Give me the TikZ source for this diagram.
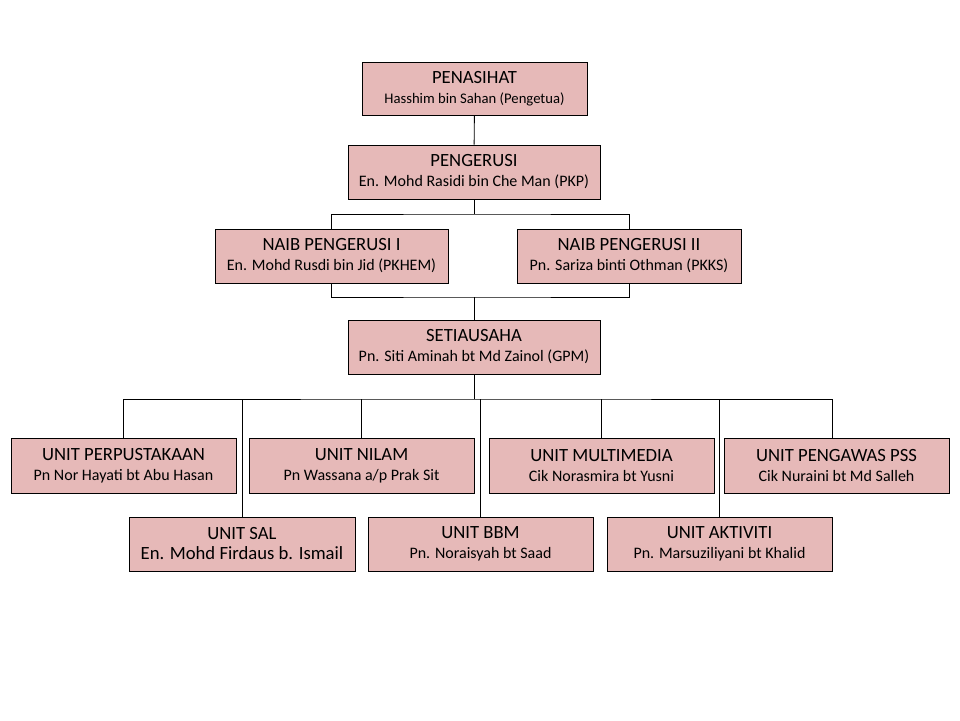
\documentclass[tikz,border=0pt]{standalone}
\usepackage{fontspec}
\setmainfont{Carlito}
\definecolor{boxpink}{HTML}{E6B9B8}
\newcommand{\post}[1]{{\fontsize{18.67}{20}\selectfont #1}}
\tikzset{
  orgbox/.style={draw=black, fill=boxpink, line width=0.9pt, align=center, inner sep=0pt,
    minimum width=225pt, minimum height=54pt, font=\fontsize{16}{20}\selectfont},
  orgline/.style={draw=black, line width=0.9pt}
}

\begin{document}
\begin{tikzpicture}[x=1pt,y=-1pt]
\useasboundingbox (0,0) rectangle (960,720);
\node[orgbox, minimum height=53pt] (penasihat) at (474.5,88.5) {\post{PENASIHAT}\\{\fontsize{14.67}{20}\selectfont Hasshim bin Sahan (Pengetua)}};
\node[orgbox, minimum width=252pt] (pengerusi) at (474,172) {\post{PENGERUSI}\\En. Mohd Rasidi bin Che Man (PKP)};
\node[orgbox, minimum width=233pt] (naibi) at (331.5,256) {\post{NAIB PENGERUSI I}\\En. Mohd Rusdi bin Jid (PKHEM)};
\node[orgbox, minimum width=224pt] (naibii) at (629,256) {\post{NAIB PENGERUSI II}\\Pn. Sariza binti Othman (PKKS)};
\node[orgbox, minimum width=252pt] (setiausaha) at (474,347) {\post{SETIAUSAHA}\\Pn. Siti Aminah bt Md Zainol (GPM)};
% unit row 1
\node[orgbox, minimum height=55pt] (perpustakaan) at (123.5,465.5) {\post{UNIT PERPUSTAKAAN}\\Pn Nor Hayati bt Abu Hasan};
\node[orgbox, minimum height=55pt] (nilam) at (361.5,465.5) {\post{UNIT NILAM}\\Pn Wassana a/p Prak Sit};
\node[orgbox, minimum height=55pt] (multimedia) at (601.5,465.5) {\post{UNIT MULTIMEDIA}\\Cik Norasmira bt Yusni};
\node[orgbox, minimum height=55pt] (pengawas) at (836.5,465.5) {\post{UNIT PENGAWAS PSS}\\Cik Nuraini bt Md Salleh};
% unit row 2
\node[orgbox, minimum width=226pt] (sal) at (242,544) {\post{UNIT SAL}\\\post{En. Mohd Firdaus b. Ismail}};
\node[orgbox] (bbm) at (480.5,544) {\post{UNIT BBM}\\Pn. Noraisyah bt Saad};
\node[orgbox] (aktiviti) at (719.5,544) {\post{UNIT AKTIVITI}\\Pn. Marsuziliyani bt Khalid};

\coordinate (busa) at (474,214);
\coordinate (busb) at (474,297);
\coordinate (busc) at (474,399);
\draw[orgline] (penasihat) -- (pengerusi);
\draw[orgline] (pengerusi) -- (busa);
\draw[orgline] (naibi.north) |- (busa) -| (naibii.north);
\draw[orgline] (naibi.south) |- (busb) -| (naibii.south);
\draw[orgline] (busb) -- (setiausaha);
\draw[orgline] (setiausaha) -- (busc);
\draw[orgline] (perpustakaan.north) |- (busc) -| ([xshift=-4.5pt]pengawas.north);
\foreach \u in {nilam,multimedia,sal,bbm,aktiviti}
  \draw[orgline] (\u.north |- busc) -- (\u.north);
\end{tikzpicture}
\end{document}
